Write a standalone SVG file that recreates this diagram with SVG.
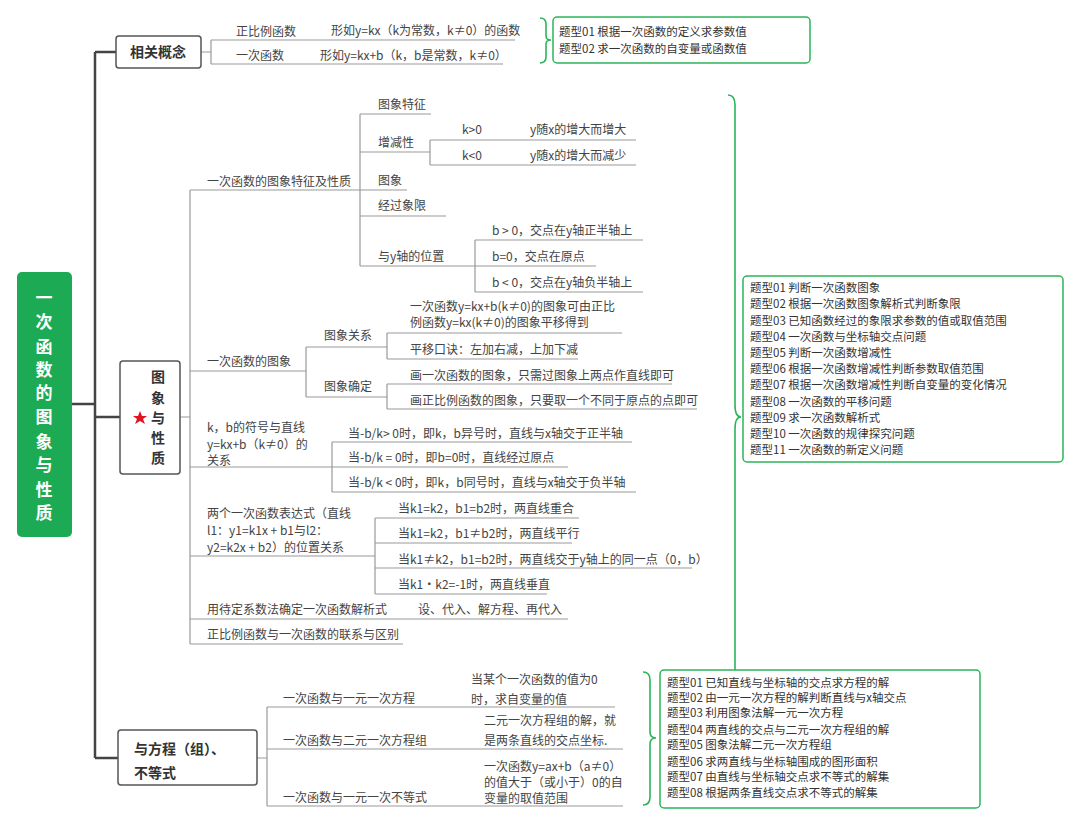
<svg xmlns="http://www.w3.org/2000/svg" width="1080" height="826" viewBox="0 0 1080 826">
<style>
text{font-family:"Noto Sans CJK SC","Liberation Sans",sans-serif;font-size:12px;fill:#444}
.b{font-size:11.5px;fill:#333}
.h{font-weight:bold;font-size:14px;fill:#333}
.r{font-weight:bold;font-size:17px;fill:#fff}
.l{fill:none;stroke:#999;stroke-width:1.2}
.t{fill:none;stroke:#444;stroke-width:2.5}
.g{fill:none;stroke:#2bb55a;stroke-width:1.6}
.box{fill:#fff;stroke:#555;stroke-width:1.5}
.q{fill:#fff;stroke:#2bb55a;stroke-width:1.5}
</style>
<rect width="1080" height="826" fill="#fff"/>
<g id="connectors">
<path class="t" d="M72 404H95M95 52V758M95 52H116M95 417H120M95 758H118"/>
<path class="l" d="M201 52H211M211 40V64M211 40H515M211 64H503"/>
<path class="l" d="M180 417H190M190 190V644"/>
<path class="l" d="M190 190H407M360 114V266M360 114H431M360 152H430M430 140V165M430 140H636M430 165H636M360 190H407M360 216H446M360 266H475M475 240V292M475 240H643M475 266H596M475 292H643"/>
<path class="l" d="M190 371H306M306 347V397M306 347H387M387 333V359M387 333H622M387 359H578M306 397H387M387 384V409M387 384H672M387 409H697"/>
<path class="l" d="M190 467H332M332 442V492M332 442H632M332 467H568M332 492H636"/>
<path class="l" d="M190 556H375M375 518V594M375 518H579M375 543H572M375 568H692M375 594H547"/>
<path class="l" d="M190 619H568M190 644H403"/>
<path class="l" d="M257 758H267M267 707V806M267 707H615M267 749H623M267 806H623"/>
<path class="g" d="M540 18Q546 18 546 24V36Q546 40 551 40Q546 40 546 44V57Q546 63 540 63"/>
<path class="g" d="M728 95Q735 95 735 105V405Q735 417 741 417Q735 417 735 429V728Q735 738 728 738"/>
<path class="g" d="M643 672Q650 672 650 680V732Q650 738 656 738Q650 738 650 744V797Q650 805 643 805"/>
</g>
<g id="root"><rect x="17" y="272" width="55" height="265" rx="5" fill="#1daa55"/>
<g text-anchor="middle"><text class="r" x="44" y="304">一</text><text class="r" x="44" y="328">次</text><text class="r" x="44" y="353">函</text><text class="r" x="44" y="376">数</text><text class="r" x="44" y="399">的</text><text class="r" x="44" y="423">图</text><text class="r" x="44" y="448">象</text><text class="r" x="44" y="471">与</text><text class="r" x="44" y="496">性</text><text class="r" x="44" y="519">质</text></g></g>
<g id="n-concept"><rect class="box" x="116" y="36" width="85" height="32" rx="3"/><text class="h" x="158" y="57" text-anchor="middle">相关概念</text>
<text x="236" y="36">正比例函数</text><text x="331" y="35">形如y=kx（k为常数，k≠0）的函数</text>
<text x="236" y="60">一次函数</text><text x="320" y="60">形如y=kx+b（k，b是常数，k≠0）</text></g>
<g id="q1"><rect class="q" x="553" y="17" width="257" height="46" rx="4"/><text class="b" x="559" y="36">题型01 根据一次函数的定义求参数值</text><text class="b" x="559" y="53">题型02 求一次函数的自变量或函数值</text></g>
<g id="n-prop"><rect class="box" x="120" y="361" width="60" height="113" rx="3"/>
<g text-anchor="middle"><text class="h" x="158" y="382">图</text><text class="h" x="158" y="403">象</text><text class="h" x="158" y="423">与</text><text class="h" x="158" y="443">性</text><text class="h" x="158" y="463">质</text></g>
<polygon points="140,411 142,416 147,416 143,419 145,424 140,421 135,424 137,419 133,416 138,416" fill="#e0141e"/></g>
<g id="prop-children">
<text x="207" y="186">一次函数的图象特征及性质</text>
<text x="378" y="109">图象特征</text><text x="378" y="147">增减性</text>
<text x="462" y="134">k&gt;0</text><text x="530" y="134">y随x的增大而增大</text>
<text x="462" y="160">k&lt;0</text><text x="530" y="160">y随x的增大而减少</text>
<text x="378" y="185">图象</text><text x="378" y="210">经过象限</text><text x="378" y="261">与y轴的位置</text>
<text x="492" y="235">b &gt; 0，交点在y轴正半轴上</text><text x="492" y="261">b=0，交点在原点</text><text x="492" y="287">b &lt; 0，交点在y轴负半轴上</text>
<text x="207" y="366">一次函数的图象</text>
<text x="324" y="340">图象关系</text><text x="324" y="391">图象确定</text>
<text x="410" y="311">一次函数y=kx+b(k≠0)的图象可由正比</text><text x="410" y="327">例函数y=kx(k≠0)的图象平移得到</text>
<text x="410" y="354">平移口诀：左加右减，上加下减</text>
<text x="410" y="380">画一次函数的图象，只需过图象上两点作直线即可</text>
<text x="410" y="405">画正比例函数的图象，只要取一个不同于原点的点即可</text>
<text x="207" y="432">k，b的符号与直线</text><text x="207" y="449">y=kx+b（k≠0）的</text><text x="207" y="465">关系</text>
<text x="348" y="438">当-b/k&gt; 0时，即k，b异号时，直线与x轴交于正半轴</text>
<text x="348" y="462">当-b/k = 0时，即b=0时，直线经过原点</text>
<text x="348" y="487">当-b/k &lt; 0时，即k，b同号时，直线与x轴交于负半轴</text>
<text x="207" y="518">两个一次函数表达式（直线</text><text x="207" y="535">l1：y1=k1x + b1与l2：</text><text x="207" y="552">y2=k2x + b2）的位置关系</text>
<text x="398" y="513">当k1=k2，b1=b2时，两直线重合</text>
<text x="398" y="538">当k1=k2，b1≠b2时，两直线平行</text>
<text x="398" y="564">当k1≠k2，b1=b2时，两直线交于y轴上的同一点（0，b）</text>
<text x="398" y="589">当k1•k2=-1时，两直线垂直</text>
<text x="207" y="614">用待定系数法确定一次函数解析式</text><text x="418" y="614">设、代入、解方程、再代入</text>
<text x="207" y="639">正比例函数与一次函数的联系与区别</text>
</g>
<g id="q2"><rect class="q" x="743" y="276" width="320" height="186" rx="4"/>
<text class="b" x="750" y="292">题型01 判断一次函数图象</text>
<text class="b" x="750" y="308">题型02 根据一次函数图象解析式判断象限</text>
<text class="b" x="750" y="325">题型03 已知函数经过的象限求参数的值或取值范围</text>
<text class="b" x="750" y="341">题型04 一次函数与坐标轴交点问题</text>
<text class="b" x="750" y="357">题型05 判断一次函数增减性</text>
<text class="b" x="750" y="373">题型06 根据一次函数增减性判断参数取值范围</text>
<text class="b" x="750" y="389">题型07 根据一次函数增减性判断自变量的变化情况</text>
<text class="b" x="750" y="406">题型08 一次函数的平移问题</text>
<text class="b" x="750" y="422">题型09 求一次函数解析式</text>
<text class="b" x="750" y="438">题型10 一次函数的规律探究问题</text>
<text class="b" x="750" y="454">题型11 一次函数的新定义问题</text></g>
<g id="n-eq"><rect class="box" x="118" y="730" width="139" height="55" rx="3"/><text class="h" x="134" y="754">与方程（组）、</text><text class="h" x="134" y="778">不等式</text>
<text x="283" y="703">一次函数与一元一次方程</text><text x="471" y="684">当某个一次函数的值为0</text><text x="471" y="704">时，求自变量的值</text>
<text x="283" y="745">一次函数与二元一次方程组</text><text x="484" y="725">二元一次方程组的解，就</text><text x="484" y="745">是两条直线的交点坐标.</text>
<text x="283" y="802">一次函数与一元一次不等式</text><text x="484" y="771">一次函数y=ax+b（a≠0）</text><text x="484" y="787">的值大于（或小于）0的自</text><text x="484" y="803">变量的取值范围</text></g>
<g id="q3"><rect class="q" x="660" y="670" width="320" height="138" rx="4"/>
<text class="b" x="667" y="687">题型01 已知直线与坐标轴的交点求方程的解</text>
<text class="b" x="667" y="702">题型02 由一元一次方程的解判断直线与x轴交点</text>
<text class="b" x="667" y="717">题型03 利用图象法解一元一次方程</text>
<text class="b" x="667" y="734">题型04 两直线的交点与二元一次方程组的解</text>
<text class="b" x="667" y="749">题型05 图象法解二元一次方程组</text>
<text class="b" x="667" y="766">题型06 求两直线与坐标轴围成的图形面积</text>
<text class="b" x="667" y="781">题型07 由直线与坐标轴交点求不等式的解集</text>
<text class="b" x="667" y="797">题型08 根据两条直线交点求不等式的解集</text></g>
</svg>
